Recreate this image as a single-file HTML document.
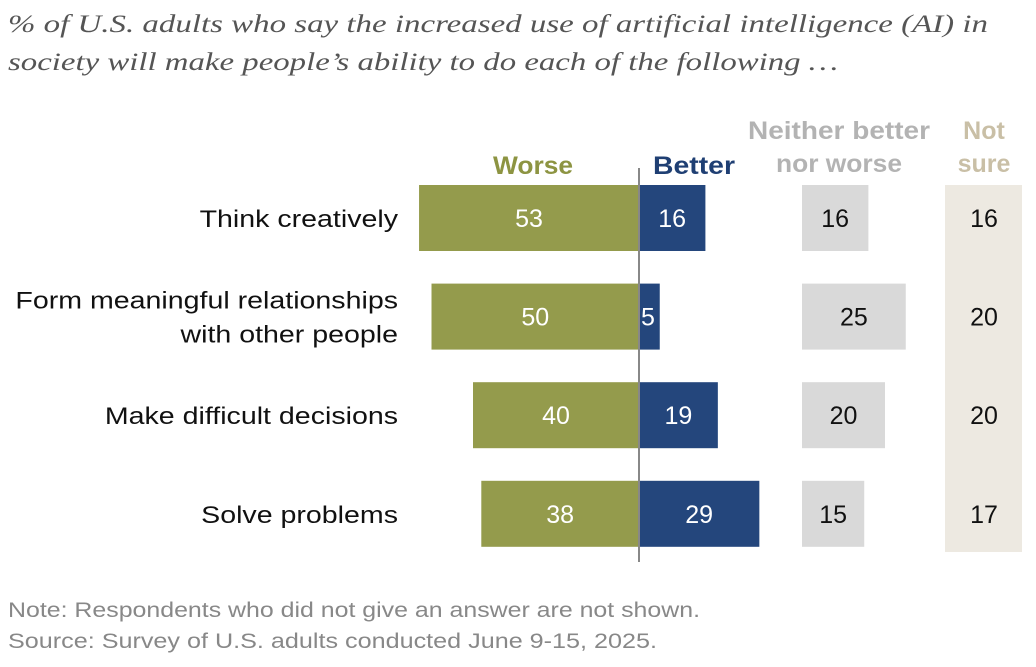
<!DOCTYPE html>
<html><head><meta charset="utf-8"><style>
body{margin:0;background:#fff;width:1036px;height:662px;overflow:hidden;font-family:"Liberation Sans",sans-serif}
</style></head><body>
<svg id="chart" width="1036" height="662" xmlns="http://www.w3.org/2000/svg" font-family="Liberation Sans, sans-serif">
<text x="8" y="32" style="font-family:'Liberation Serif',serif;font-style:italic" font-size="25" fill="#555" textLength="980" lengthAdjust="spacingAndGlyphs">% of U.S. adults who say the increased use of artificial intelligence (AI) in</text>
<text x="8" y="70" style="font-family:'Liberation Serif',serif;font-style:italic" font-size="25" fill="#555" textLength="830" lengthAdjust="spacingAndGlyphs">society will make people’s ability to do each of the following …</text>
<text x="533" y="174" text-anchor="middle" font-size="25" font-weight="bold" fill="#8d9442" textLength="80" lengthAdjust="spacingAndGlyphs">Worse</text>
<text x="694" y="174" text-anchor="middle" font-size="25" font-weight="bold" fill="#1f3f73" textLength="82" lengthAdjust="spacingAndGlyphs">Better</text>
<text x="839" y="139" text-anchor="middle" font-size="25" font-weight="bold" fill="#b3b3b3" textLength="182" lengthAdjust="spacingAndGlyphs">Neither better</text>
<text x="839" y="172" text-anchor="middle" font-size="25" font-weight="bold" fill="#b3b3b3" textLength="126" lengthAdjust="spacingAndGlyphs">nor worse</text>
<text x="984" y="139" text-anchor="middle" font-size="25" font-weight="bold" fill="#c9bfa6">Not</text>
<text x="984" y="172" text-anchor="middle" font-size="25" font-weight="bold" fill="#c9bfa6">sure</text>
<rect x="945" y="185" width="77" height="367" fill="#ede9e1"/>
<g id="marks"></g>
<line x1="639" y1="168" x2="639" y2="562" stroke="#888" stroke-width="2"/>
<text x="8" y="617" font-size="21" fill="#888" textLength="692" lengthAdjust="spacingAndGlyphs">Note: Respondents who did not give an answer are not shown.</text>
<text x="8" y="648" font-size="21" fill="#888" textLength="649" lengthAdjust="spacingAndGlyphs">Source: Survey of U.S. adults conducted June 9-15, 2025.</text>
</svg>
<script>
const categories=[["Think creatively"],["Form meaningful relationships","with other people"],["Make difficult decisions"],["Solve problems"]];
const worse=[53,50,40,38];
const better=[16,5,19,29];
const neither=[16,25,20,15];
const notSure=[16,20,20,17];
const NS="http://www.w3.org/2000/svg";
const g=document.getElementById('marks');
const k=4.15, cx=639, nx=802;
const rowY=i=>185+i*98.6;
const bh=66;
function el(t,a){const e=document.createElementNS(NS,t);for(const n in a)e.setAttribute(n,a[n]);g.appendChild(e);return e;}
function widen(t,f){const w=t.getComputedTextLength();t.setAttribute('textLength',w*f);t.setAttribute('lengthAdjust','spacingAndGlyphs');}
categories.forEach((c,i)=>{
 const y=rowY(i), mid=y+bh/2;
 c.forEach((line,j)=>{const t=el('text',{x:398,y:mid+9+(j-(c.length-1)/2)*34,'text-anchor':'end','font-size':24,fill:'#111'});t.textContent=line;
 
 
 widen(t,1.19);});
 const w=worse[i]*k;
 const r1=el('rect',{x:cx-w,y:y,width:w,height:bh,fill:'#949b4c'});
 
 
 const t1=el('text',{x:cx-w/2,y:mid+9,'text-anchor':'middle','font-size':25,fill:'#fff'});t1.textContent=worse[i];
 
 
 const b=better[i]*k;
 const r2=el('rect',{x:cx,y:y,width:b,height:bh,fill:'#24467c'});
 
 
 const t2=el('text',{x:b<30?cx+2:cx+b/2,y:mid+9,'text-anchor':b<30?'start':'middle','font-size':25,fill:'#fff'});t2.textContent=better[i];
 
 
 const n=neither[i]*k;
 const r3=el('rect',{x:nx,y:y,width:n,height:bh,fill:'#d9d9d9'});
 
 
 const t3=el('text',{x:nx+n/2,y:mid+9,'text-anchor':'middle','font-size':25,fill:'#111'});t3.textContent=neither[i];
 
 
 const t4=el('text',{x:984,y:mid+9,'text-anchor':'middle','font-size':25,fill:'#111'});t4.textContent=notSure[i];
 
 
});
</script>
</body></html>
